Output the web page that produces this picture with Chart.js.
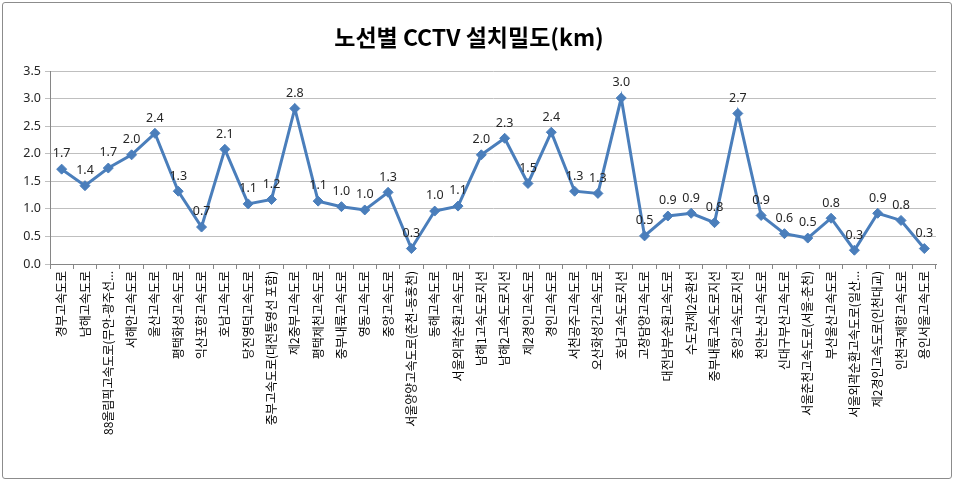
<!DOCTYPE html>
<html>
<head>
<meta charset="utf-8">
<script src="https://cdn.jsdelivr.net/npm/chart.js@4/dist/chart.umd.min.js"></script>
<style>
  html,body{margin:0;padding:0;background:#fff}
  #wrap{position:relative;width:954px;height:481px}
  #frame{position:absolute;left:2px;top:2px;right:2px;bottom:2px;border:1px solid #8c8c8c;border-radius:3px;pointer-events:none}
</style>
</head>
<body>
<div id="wrap">
  <canvas id="c" width="954" height="481"></canvas>
  <div id="frame"></div>
</div>
<script>
const titleText = '노선별 CCTV 설치밀도(km)';

const routes = [
  '경부고속도로','남해고속도로','88올림픽고속도로(무안-광주선...','서해안고속도로','울산고속도로',
  '평택화성고속도로','익산포항고속도로','호남고속도로','당진영덕고속도로','중부고속도로(대전통영선 포함)',
  '제2중부고속도로','평택제천고속도로','중부내륙고속도로','영동고속도로','중앙고속도로',
  '서울양양고속도로(춘천-동홍천)','동해고속도로','서울외곽순환고속도로','남해1고속도로지선','남해2고속도로지선',
  '제2경인고속도로','경인고속도로','서천공주고속도로','오산화성간고속도로','호남고속도로지선',
  '고창담양고속도로','대전남부순환고속도로','수도권제2순환선','중부내륙고속도로지선','중앙고속도로지선',
  '천안논산고속도로','신대구부산고속도로','서울춘천고속도로(서울-춘천)','부산울산고속도로','서울외곽순환고속도로(일산...',
  '제2경인고속도로(인천대교)','인천국제항고속도로','용인서울고속도로'
];

const density = [
  1.72, 1.42, 1.74, 1.98, 2.37,
  1.32, 0.67, 2.08, 1.09, 1.17,
  2.82, 1.14, 1.04, 0.98, 1.30,
  0.28, 0.96, 1.05, 1.98, 2.28,
  1.46, 2.39, 1.32, 1.28, 3.01,
  0.51, 0.87, 0.92, 0.75, 2.73,
  0.88, 0.55, 0.47, 0.83, 0.25,
  0.92, 0.79, 0.28
];

const yTicks = [0, 0.5, 1.0, 1.5, 2.0, 2.5, 3.0, 3.5];

// simple data label drawing (no datalabels plugin available)
const valueLabels = {
  id:'valueLabels',
  afterDatasetsDraw(chart){
    const ctx = chart.ctx;
    const meta = chart.getDatasetMeta(0);
    ctx.save();
    ctx.font = '12.5px "Noto Sans", "DejaVu Sans", sans-serif';
    ctx.fillStyle = '#262626';
    ctx.textAlign = 'center';
    ctx.textBaseline = 'bottom';
    meta.data.forEach((pt,i)=>{
      ctx.fillText(density[i].toFixed(1), pt.x, pt.y - 9);
    });
    ctx.restore();
  }
};

new Chart(document.getElementById('c'), {
  type:'line',
  data:{
    labels: routes,
    datasets:[{
      data: density,
      borderColor:'#4a7ebb',
      backgroundColor:'#4a7ebb',
      borderWidth:3,
      pointStyle:'rectRot',
      pointRadius:5,
      pointBorderWidth:1,
      tension:0
    }]
  },
  options:{
    responsive:false, animation:false,
    layout:{ padding:{ left:2, right:18, top:0, bottom:0 } },
    plugins:{
      legend:{ display:false },
      tooltip:{ enabled:false },
      title:{
        display:true, text:titleText, color:'#000',
        font:{ family:'"Noto Sans CJK KR", sans-serif', size:23, weight:'bold', lineHeight:1.2 },
        padding:{ top:23, bottom:20.4 }
      }
    },
    scales:{
      x:{
        offset:true,
        grid:{ offset:true, drawOnChartArea:false, drawTicks:true, tickLength:5, color:'#868686' },
        border:{ color:'#868686' },
        ticks:{
          autoSkip:false, maxRotation:90, minRotation:90, padding:2,
          color:'#000',
          font:{ family:'"Noto Sans CJK KR", sans-serif', size:12 }
        },
        afterFit(scale){ scale.height = 217; }
      },
      y:{
        min:0, max:3.5,
        afterBuildTicks(scale){ scale.ticks = yTicks.map(v=>({value:v})); },
        grid:{ color:'#bfbfbf', tickLength:5, lineWidth:1 },
        border:{ color:'#868686' },
        ticks:{
          color:'#262626', padding:4,
          font:{ family:'"Noto Sans", sans-serif', size:12.5 },
          callback:(v)=>Number(v).toFixed(1)
        },
        afterFit(scale){ scale.width = 48; }
      }
    }
  },
  plugins:[valueLabels]
});
</script>
</body>
</html>
